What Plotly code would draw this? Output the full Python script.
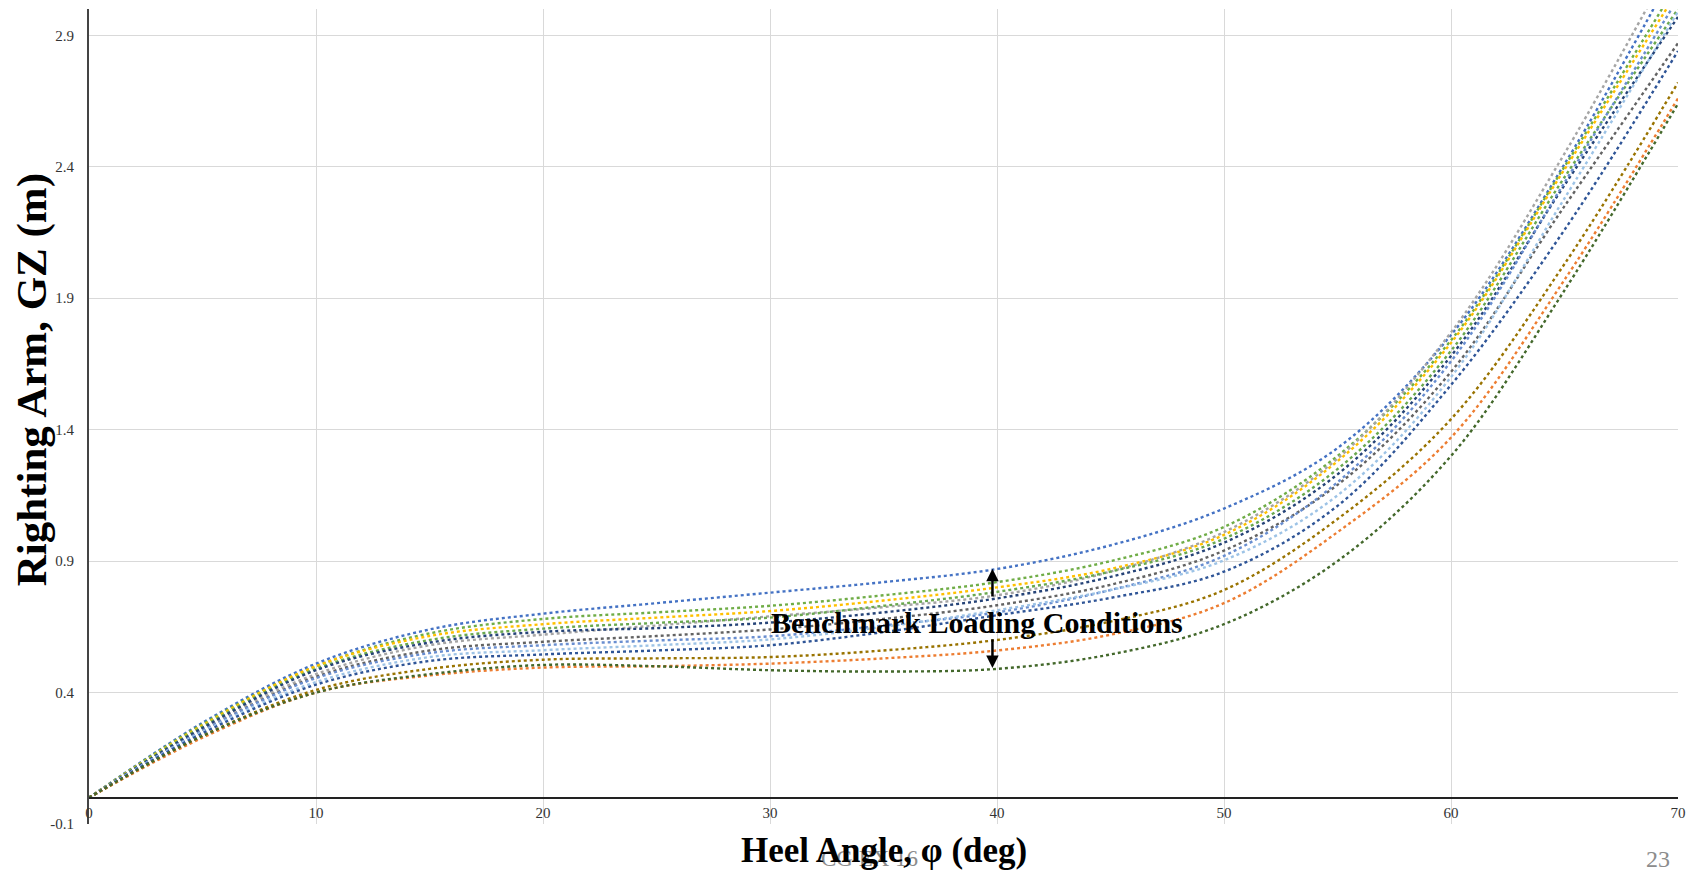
import plotly.graph_objects as go

# Heel angle (deg) sample points
heel_angle = [0, 5, 10, 15, 20, 25, 30, 35, 40, 45, 50, 55, 60, 65, 70]

# Righting arm GZ (m) for each loading condition
gz_c01 = [0, 0.285, 0.510, 0.640, 0.700, 0.740, 0.780, 0.820, 0.870, 0.960, 1.100, 1.330, 1.760, 2.410, 3.170]
gz_c02 = [0, 0.280, 0.500, 0.625, 0.680, 0.705, 0.730, 0.770, 0.820, 0.900, 1.030, 1.300, 1.740, 2.400, 3.100]
gz_c03 = [0, 0.275, 0.500, 0.615, 0.660, 0.685, 0.710, 0.750, 0.800, 0.870, 1.000, 1.280, 1.730, 2.390, 3.070]
gz_c04 = [0, 0.265, 0.470, 0.580, 0.620, 0.655, 0.690, 0.725, 0.770, 0.860, 1.010, 1.290, 1.770, 2.450, 3.220]
gz_c05 = [0, 0.270, 0.490, 0.600, 0.643, 0.665, 0.685, 0.730, 0.783, 0.860, 0.985, 1.250, 1.700, 2.360, 3.000]
gz_c06 = [0, 0.265, 0.485, 0.590, 0.631, 0.645, 0.666, 0.705, 0.758, 0.840, 0.970, 1.230, 1.680, 2.330, 2.970]
gz_c07 = [0, 0.255, 0.460, 0.560, 0.593, 0.615, 0.640, 0.680, 0.732, 0.810, 0.940, 1.190, 1.620, 2.250, 2.870]
gz_c08 = [0, 0.255, 0.455, 0.550, 0.580, 0.598, 0.614, 0.655, 0.705, 0.790, 0.920, 1.200, 1.660, 2.340, 3.040]
gz_c09 = [0, 0.250, 0.440, 0.535, 0.561, 0.580, 0.602, 0.650, 0.713, 0.790, 0.903, 1.150, 1.600, 2.280, 2.990]
gz_c10 = [0, 0.245, 0.430, 0.520, 0.545, 0.560, 0.580, 0.630, 0.694, 0.760, 0.860, 1.110, 1.570, 2.160, 2.840]
gz_c11 = [0, 0.235, 0.410, 0.490, 0.525, 0.530, 0.535, 0.560, 0.600, 0.670, 0.790, 1.060, 1.440, 2.030, 2.720]
gz_c12 = [0, 0.228, 0.400, 0.465, 0.495, 0.500, 0.510, 0.530, 0.560, 0.620, 0.740, 1.010, 1.370, 1.970, 2.660]
gz_c13 = [0, 0.235, 0.400, 0.470, 0.505, 0.500, 0.485, 0.480, 0.490, 0.545, 0.660, 0.900, 1.300, 1.930, 2.640]

series = [gz_c01, gz_c02, gz_c03, gz_c04, gz_c05, gz_c06, gz_c07,
          gz_c08, gz_c09, gz_c10, gz_c11, gz_c12, gz_c13]
series_colors = ['#4472C4', '#70AD47', '#FFC000', '#A5A5A5', '#6AA84F', '#264478', '#636363',
                 '#698ED0', '#9DC3E6', '#2F5597', '#997300', '#ED7D31', '#43682B']

x_ticks = [0, 10, 20, 30, 40, 50, 60, 70]
x_tick_labels = ['0', '10', '20', '30', '40', '50', '60', '70']
y_ticks = [-0.1, 0.4, 0.9, 1.4, 1.9, 2.4, 2.9]
y_tick_labels = ['-0.1', '0.4', '0.9', '1.4', '1.9', '2.4', '2.9']

SERIF = 'Liberation Serif, Times New Roman, serif'

fig = go.Figure()
for vals, col in zip(series, series_colors):
    fig.add_trace(go.Scatter(
        x=heel_angle, y=vals, mode='lines',
        line=dict(color=col, width=2.4, dash='dot', shape='spline', smoothing=1.0),
        showlegend=False, hoverinfo='skip'))

y_min, y_max = -0.1, 3.0

fig.update_layout(
    width=1695, height=871,
    margin=dict(l=89, r=17, t=9, b=47, autoexpand=False),
    paper_bgcolor='white', plot_bgcolor='white',
    font=dict(family=SERIF, color='#333333'),
    xaxis=dict(
        range=[0, 70], tickvals=x_ticks, ticktext=x_tick_labels,
        showgrid=True, gridcolor='#d9d9d9', gridwidth=1,
        zeroline=False, showline=True, linecolor='#222222', linewidth=2,
        anchor='free', position=(0 - y_min) / (y_max - y_min),
        ticks='', tickfont=dict(family=SERIF, size=15, color='#333333'),
        ticklabelstandoff=1, automargin=False,
    ),
    yaxis=dict(
        range=[y_min, y_max], tickvals=y_ticks, ticktext=y_tick_labels,
        showgrid=True, gridcolor='#d9d9d9', gridwidth=1,
        zeroline=False, showline=True, linecolor='#444444', linewidth=2,
        ticks='', tickfont=dict(family=SERIF, size=15, color='#333333'),
        ticklabelstandoff=10, automargin=False,
    ),
)

annotations = [
    dict(text='CG EX 16', xref='paper', yref='paper', x=0.4915, y=-0.042,
         xanchor='center', yanchor='middle',
         showarrow=False, font=dict(family=SERIF, size=23, color='#8c8c8c')),
    dict(text='<b>Heel Angle, φ (deg)</b>', xref='paper', yref='paper', x=0.5003, y=-0.032,
         xanchor='center', yanchor='middle',
         showarrow=False, font=dict(family=SERIF, size=35, color='black')),
    dict(text='<b>Righting Arm, GZ (m)</b>', xref='paper', yref='paper', x=-0.0362, y=0.545,
         xanchor='center', yanchor='middle',
         textangle=-90, showarrow=False, font=dict(family=SERIF, size=43, color='black')),
    dict(text='23', xref='paper', yref='paper', x=0.9874, y=-0.0429,
         xanchor='center', yanchor='middle',
         showarrow=False, font=dict(family=SERIF, size=24, color='#8c8c8c')),
    dict(text='<b>Benchmark Loading Conditions</b>', xref='x', yref='y', x=39.1, y=0.665,
         xanchor='center', yanchor='middle',
         showarrow=False, font=dict(family=SERIF, size=30, color='black')),
    dict(text='', xref='x', yref='y', x=39.8, y=0.871, axref='x', ayref='y', ax=39.8, ay=0.76,
         showarrow=True, arrowhead=2, arrowsize=1, arrowwidth=2.5, arrowcolor='black'),
    dict(text='', xref='x', yref='y', x=39.8, y=0.493, axref='x', ayref='y', ax=39.8, ay=0.608,
         showarrow=True, arrowhead=2, arrowsize=1, arrowwidth=2.5, arrowcolor='black'),
]
fig.update_layout(annotations=annotations)

fig.write_html('out.html', config={'displayModeBar': False},
               post_script="document.body.style.margin='0';document.body.style.overflow='hidden';")
